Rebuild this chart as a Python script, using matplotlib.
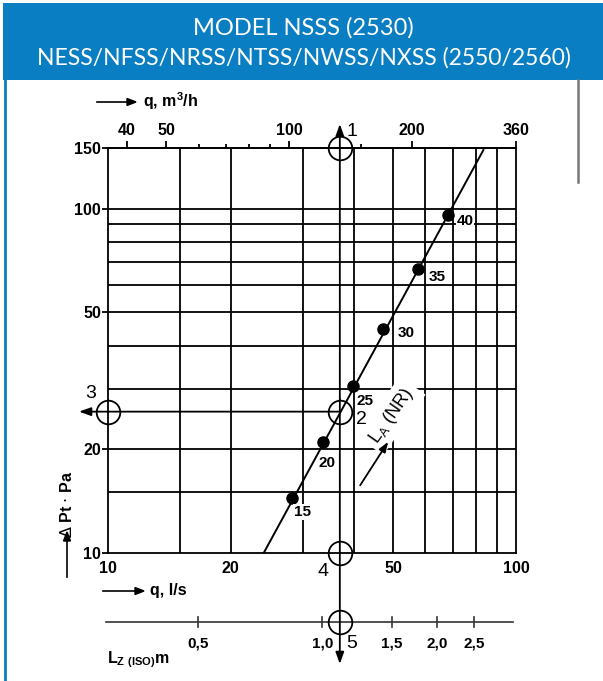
import matplotlib
matplotlib.use('Agg')
import matplotlib.pyplot as plt
import matplotlib.transforms as mtransforms
from matplotlib.patches import Rectangle
from matplotlib.lines import Line2D
from matplotlib.ticker import NullLocator

# ---------------- data ----------------
q_ls_ticks = [10, 20, 50, 100]                 # bottom axis, l/s
q_m3h_major = [40, 50, 100, 200, 360]          # top axis, m3/h
q_m3h_minor = [60, 70, 80, 90, 150]
dp_ticks = [10, 20, 50, 100, 150]              # Pa
grid_q = [15, 20, 30, 40, 50, 60, 70, 80, 90]
grid_dp = [15, 20, 30, 40, 50, 60, 70, 80, 90, 100]
la_levels = [15, 20, 25, 30, 35, 40]           # LA(NR) dB
la_q = [28.3, 33.7, 39.8, 47.3, 57.6, 68.2]
la_dp = [14.4, 21.0, 30.6, 44.8, 66.9, 95.6]
la_line_q = [24.1, 83.2]
la_line_dp = [10, 148]
op_q = 37.0                                    # operating point l/s
op_dp = 25.7                                   # operating point Pa
lz_labels = ['0,5', '1,0', '1,5', '2,0', '2,5']
lz_at_q = [16.6, 33.5, 49.7, 64.0, 78.9]
lz_range_q = [9.9, 98.3]

W, H = 603, 681
def fx(px): return px / W
def fy(py): return 1 - py / H

plt.rcParams['font.family'] = ['Liberation Sans', 'DejaVu Sans']
BLUE = '#0a7ec2'
LW = 1.3

fig = plt.figure(figsize=(W / 100, H / 100), dpi=100)
fig.patch.set_facecolor('white')

# header
fig.patches.append(Rectangle((fx(3), fy(80)), fx(600), 77 / H, transform=fig.transFigure,
                             facecolor=BLUE, edgecolor='none', zorder=0))
fig.text(fx(303), fy(28), 'MODEL NSSS (2530)', color='white', ha='center', va='center',
         fontsize=17, family='Lato')
fig.text(fx(304), fy(58), 'NESS/NFSS/NRSS/NTSS/NWSS/NXSS (2550/2560)', color='white',
         ha='center', va='center', fontsize=16.5, family='Lato')
fig.lines.append(Line2D([fx(5), fx(5)], [fy(80), fy(681)], transform=fig.transFigure,
                        color=BLUE, lw=2))
fig.lines.append(Line2D([fx(578), fx(578)], [fy(80), fy(182)], transform=fig.transFigure,
                        color='#777777', lw=1.8))

ax = fig.add_axes([fx(108), fy(552.7), 408 / W, 404.7 / H])
ax.set_xscale('log')
ax.set_yscale('log')
ax.set_xlim(10, 100)
ax.set_ylim(10, 150)
for s in ax.spines.values():
    s.set_linewidth(LW)
    s.set_color('black')

for g in grid_q:
    ax.axvline(g, color='black', lw=LW, zorder=1)
for g in grid_dp:
    ax.axhline(g, color='black', lw=LW, zorder=1)

ax.xaxis.set_minor_locator(NullLocator())
ax.yaxis.set_minor_locator(NullLocator())
ax.set_xticks(q_ls_ticks)
ax.set_xticklabels([str(v) for v in q_ls_ticks])
ax.set_yticks(dp_ticks)
ax.set_yticklabels([str(v) for v in dp_ticks])
ax.tick_params(axis='x', length=0, pad=6, labelsize=11.5)
ax.tick_params(axis='y', length=4, width=LW, pad=1, labelsize=11.5, direction='out')
for t in ax.get_xticklabels() + ax.get_yticklabels():
    t.set_fontweight('bold')

sec = ax.secondary_xaxis('top', functions=(lambda x: x * 3.6, lambda x: x / 3.6))
sec.set_xticks(q_m3h_major)
sec.set_xticklabels([str(v) for v in q_m3h_major])
sec.set_xticks(q_m3h_minor, minor=True)
sec.set_xticklabels([], minor=True)
sec.tick_params(axis='x', which='major', length=5, width=LW, pad=2, labelsize=11.5)
sec.tick_params(axis='x', which='minor', length=3, width=LW)
sec.spines['top'].set_linewidth(LW)
for t in sec.get_xticklabels():
    t.set_fontweight('bold')

# LA(NR) line and points
ax.plot(la_line_q, la_line_dp, color='black', lw=1.4, zorder=4)
ax.plot(la_q, la_dp, 'o', color='black', ms=8, zorder=5)
la_offsets = [(10, 14), (4, 21), (12, 15), (23, 4), (19, 8), (17, 6)]
for lv, q, p, (dx, dy) in zip(la_levels, la_q, la_dp, la_offsets):
    ax.annotate(str(lv), (q, p), xytext=(dx * 0.72, -dy * 0.72), textcoords='offset points',
                ha='center', va='center', fontsize=11, fontweight='bold', zorder=6,
                bbox=dict(boxstyle='square,pad=0.05', fc='white', ec='none'))

ax.text(49.5, 25.0, r'L$_\mathregular{A}$ (NR)', rotation=55, ha='center', va='center',
        fontsize=13, zorder=3,
        bbox=dict(boxstyle='square,pad=0.3', fc='white', ec='none'))
ax.annotate('', xy=(48.6, 21.0), xytext=(41.5, 15.7),
            arrowprops=dict(arrowstyle='-|>,head_length=0.6,head_width=0.22', color='black',
                            lw=1.3, shrinkA=0, shrinkB=0), zorder=3)

# operating lines
bx = mtransforms.blended_transform_factory(ax.transData, fig.transFigure)
by = mtransforms.blended_transform_factory(fig.transFigure, ax.transData)
ap = dict(arrowstyle='-|>,head_length=0.7,head_width=0.25', color='black', lw=LW,
          shrinkA=0, shrinkB=0)
ax.annotate('', xy=(op_q, fy(124)), xycoords=bx, xytext=(op_q, fy(400)), textcoords=bx,
            arrowprops=ap, annotation_clip=False)
ax.annotate('', xy=(op_q, fy(664)), xycoords=bx, xytext=(op_q, fy(399)), textcoords=bx,
            arrowprops=ap, annotation_clip=False)
ax.annotate('', xy=(fx(79), op_dp), xycoords=by, xytext=(op_q, op_dp), textcoords='data',
            arrowprops=ap, annotation_clip=False)

circ = dict(marker='o', ms=17, mfc='none', mec='black', mew=1.3, ls='none', clip_on=False,
            zorder=6)
ax.plot([op_q, op_q, 10, op_q], [150, op_dp, op_dp, 10], **circ)
ax.plot([op_q], [fy(622)], transform=bx, **circ)

# Lz axis
ax.plot(lz_range_q, [fy(622), fy(622)], transform=bx, color='#333333', lw=1.2, clip_on=False)
for q, lab in zip(lz_at_q, lz_labels):
    ax.plot([q, q], [fy(617), fy(627)], transform=bx, color='#333333', lw=1.2, clip_on=False)
    ax.text(q, fy(643), lab, transform=bx, ha='center', va='center', fontsize=11,
            fontweight='bold')
fig.text(fx(107), fy(660), r'L$_\mathregular{Z\ (ISO)}$m', ha='left', va='center',
         fontsize=11.5, fontweight='bold')

# point numbers
for lab, px, py in [('1', 352, 132), ('2', 361, 419), ('3', 91, 393), ('4', 323, 572),
                    ('5', 352, 643)]:
    fig.text(fx(px), fy(py), lab, ha='center', va='center', fontsize=14)

# axis titles
fig.lines.append(Line2D([fx(97), fx(128)], [fy(102), fy(102)], transform=fig.transFigure,
                        color='black', lw=1.2))
fig.patches.append(plt.Polygon([[fx(127), fy(98.5)], [fx(136), fy(102)], [fx(127), fy(105.5)]],
                               closed=True, transform=fig.transFigure, color='black'))
fig.text(fx(143), fy(101), r'q, m$^\mathregular{3}$/h', ha='left', va='center', fontsize=11.5,
         fontweight='bold')

fig.lines.append(Line2D([fx(103), fx(136)], [fy(591), fy(591)], transform=fig.transFigure,
                        color='black', lw=1.2))
fig.patches.append(plt.Polygon([[fx(135), fy(587.5)], [fx(144), fy(591)], [fx(135), fy(594.5)]],
                               closed=True, transform=fig.transFigure, color='black'))
fig.text(fx(150), fy(591), 'q, l/s', ha='left', va='center', fontsize=11.5, fontweight='bold')

fig.lines.append(Line2D([fx(67), fx(67)], [fy(577), fy(540)], transform=fig.transFigure,
                        color='black', lw=1.2))
fig.patches.append(plt.Polygon([[fx(63.5), fy(541)], [fx(67), fy(532)], [fx(70.5), fy(541)]],
                               closed=True, transform=fig.transFigure, color='black'))
fig.text(fx(67), fy(504), r'$\Delta$ Pt $\cdot$ Pa', rotation=90, ha='center', va='center',
         fontsize=11.5, fontweight='bold')

fig.savefig('out.png', dpi=100)
